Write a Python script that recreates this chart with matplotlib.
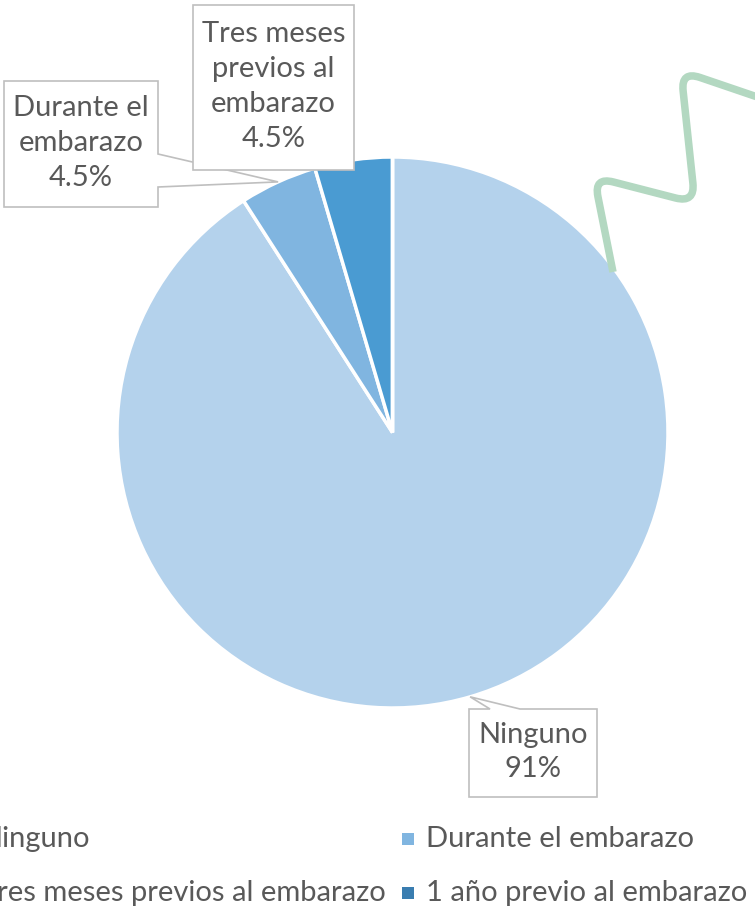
import matplotlib.pyplot as plt
from matplotlib.patches import Polygon, PathPatch
from matplotlib.path import Path
import numpy as np

W, H = 755, 909

categorias = ["Ninguno", "Durante el embarazo",
              "Tres meses previos al embarazo", "1 año previo al embarazo"]
casos = [20, 1, 1, 0]
etiquetas = ["Ninguno\n91%", "Durante el\nembarazo\n4.5%",
             "Tres meses\nprevios al\nembarazo\n4.5%", None]
colores = ["#B4D2EC", "#80B5E0", "#4A9BD2", "#3A7DB0"]

GRIS_TXT = "#595959"
GRIS_BORDE = "#BFBFBF"
FUENTE = "Lato"
TAM = 21

# cajas de etiqueta en pixeles (izq, arriba, der, abajo), y hacia abajo
cajas = [(469, 709, 597, 797), (4, 81, 158, 207), (193, 5, 354, 170), None]
# lado de la caja donde sale la flecha y sus dos puntos de base
flechas = [("top", 490, 520), ("right", 154, 187), None, None]


def fy(y):
    return H - y


fig = plt.figure(figsize=(W / 100, H / 100), dpi=100)
ax = fig.add_axes([0, 0, 1, 1])

cx, cy, r = 392.5, fy(432.5), 275.5
wedges, _ = ax.pie(casos, colors=colores, startangle=90, counterclock=False,
                   center=(cx, cy), radius=r,
                   wedgeprops=dict(edgecolor="white", linewidth=2.5))
ax.set_xlim(0, W)
ax.set_ylim(0, H)
ax.set_aspect("auto")
ax.axis("off")

# etiquetas tipo globo
for i, w in enumerate(wedges):
    if cajas[i] is None:
        continue
    x0, y0, x1, y1 = cajas[i]
    ang = np.deg2rad((w.theta1 + w.theta2) / 2)
    tip = (cx + r * np.cos(ang), cy + r * np.sin(ang))
    pts = [(x0, fy(y0))]
    fl = flechas[i]
    if fl is not None and fl[0] == "top":
        pts += [(fl[1], fy(y0)), tip, (fl[2], fy(y0))]
    pts += [(x1, fy(y0))]
    if fl is not None and fl[0] == "right":
        pts += [(x1, fy(fl[1])), tip, (x1, fy(fl[2]))]
    pts += [(x1, fy(y1)), (x0, fy(y1))]
    ax.add_patch(Polygon(pts, closed=True, facecolor="white",
                         edgecolor=GRIS_BORDE, linewidth=1.2, zorder=3 + i))
    ax.text((x0 + x1) / 2, fy((y0 + y1) / 2 - 1), etiquetas[i], ha="center",
            va="center", fontsize=TAM, family=FUENTE, color=GRIS_TXT,
            linespacing=1.42, zorder=3 + i)

# linea decorativa verde
esquinas = [(613, 272), (594, 177), (695, 203), (681, 71), (775, 103)]
verts = [(esquinas[0][0], fy(esquinas[0][1]))]
codes = [Path.MOVETO]
for k in range(1, len(esquinas) - 1):
    p = np.array(esquinas[k - 1], float)
    c = np.array(esquinas[k], float)
    n = np.array(esquinas[k + 1], float)
    a = c + (p - c) / np.linalg.norm(p - c) * 20
    b = c + (n - c) / np.linalg.norm(n - c) * 20
    verts += [(a[0], fy(a[1])), (c[0], fy(c[1])), (b[0], fy(b[1]))]
    codes += [Path.LINETO, Path.CURVE3, Path.CURVE3]
verts.append((esquinas[-1][0], fy(esquinas[-1][1])))
codes.append(Path.LINETO)
ax.add_patch(PathPatch(Path(verts, codes), facecolor="none",
                       edgecolor="#B3D8C1", linewidth=5.4, capstyle="butt",
                       joinstyle="round", zorder=6))

# leyenda (dos columnas, la primera cortada a la izquierda)
col_txt = [-20, 426]
fila_base = [847, 901]
for j, nombre in enumerate(categorias):
    fila, col = divmod(j, 2)
    xt = col_txt[col]
    yb = fila_base[fila]
    ax.add_patch(plt.Rectangle((xt - 24, fy(yb - 2)), 12, 12,
                               facecolor=colores[j], edgecolor="none",
                               clip_on=False))
    ax.text(xt, fy(yb), nombre, ha="left", va="baseline", fontsize=TAM,
            family=FUENTE, color=GRIS_TXT)

fig.savefig("out.png", dpi=100, facecolor="white")
